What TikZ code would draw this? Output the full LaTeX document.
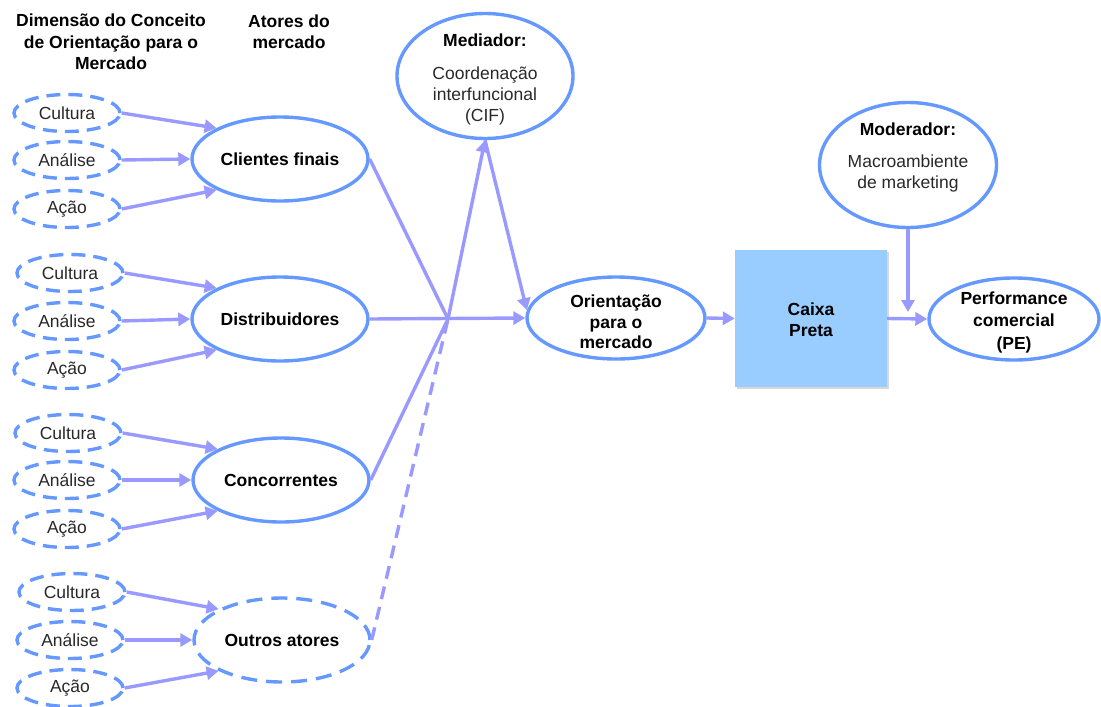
\documentclass[tikz,border=0pt]{standalone}
\usepackage{fontspec}
\setmainfont{Liberation Sans}
\usetikzlibrary{arrows.meta,shapes.geometric,shadows}

\definecolor{ovalblue}{RGB}{102,153,255}
\definecolor{arrowblue}{RGB}{153,153,255}
\definecolor{boxblue}{RGB}{153,204,255}
\definecolor{txtgray}{RGB}{40,40,40}

\tikzset{
  basefont/.style={font=\fontsize{17.5}{21}\selectfont},
  dimoval/.style={ellipse, draw=ovalblue, line width=3.4pt, dash pattern=on 14pt off 8pt,
    minimum width=106pt, minimum height=37pt, inner sep=0pt, basefont, text=txtgray},
  actoroval/.style={ellipse, draw=ovalblue, line width=3.4pt,
    minimum width=176pt, minimum height=84pt, inner sep=0pt,
    font=\fontsize{17.5}{21}\selectfont\bfseries},
  otheroval/.style={actoroval, dash pattern=on 16pt off 9pt},
  bigoval/.style={ellipse, draw=ovalblue, line width=3.4pt, inner sep=0pt},
  ovaltext/.style={align=center, basefont, text=txtgray},
  boldtext/.style={align=center, font=\fontsize{17.5}{21.3}\selectfont\bfseries},
  link/.style={draw=arrowblue, line width=3.4pt},
  arr/.style={link, -{Triangle[length=12pt,width=13pt]}},
  dashlink/.style={link, dash pattern=on 13pt off 8pt},
}

\begin{document}
\begin{tikzpicture}[x=1pt,y=-1pt]
\useasboundingbox (0,0) rectangle (1101,707);

% column headings
\node[boldtext] (h1) at (111,42) {Dimensão do Conceito\\de Orientação para o\\Mercado};
\node[boldtext] (h2) at (289,32) {Atores do\\mercado};

% market actors
\node[actoroval] (cf) at (280,159) {Clientes finais};
\node[actoroval] (di) at (280,319) {Distribuidores};
\node[actoroval] (co) at (281,480) {Concorrentes};
\node[otheroval] (ou) at (282,640) {Outros atores};

% dimensions feeding each actor
\foreach \grp/\act/\ya/\yb/\yc/\xa/\xb/\xc in {
    a/cf/113/160/209/67/67/67,
    b/di/273/321/370/70/67/67,
    c/co/433/480/529/68/67/67,
    d/ou/592/640/688/72/70/70}{
  \node[dimoval] (\grp1) at (\xa,\ya) {Cultura};
  \node[dimoval] (\grp2) at (\xb,\yb) {Análise};
  \node[dimoval] (\grp3) at (\xc,\yc) {Ação};
  \draw[arr] (\grp1.east) -- (\act.154);
  \draw[arr] (\grp2.east) -- (\act.west);
  \draw[arr] (\grp3.east) -- (\act.206);
}

% mediator
\node[bigoval, minimum width=176pt, minimum height=125pt] (med) at (485,76) {};
\node[ovaltext] (medt) at (485,79)
  {\textbf{\color{black}Mediador:}\\[12pt]Coordenação\\interfuncional\\(CIF)};

% market orientation
\node[bigoval, minimum width=178pt, minimum height=82pt] (or) at (616,318) {};
\node[boldtext, font=\fontsize{17.5}{20.5}\selectfont\bfseries] (ort) at (616,322)
  {Orientação\\para o\\mercado};

% black box
\node[rectangle, fill=boxblue, minimum width=152pt, minimum height=137pt,
      drop shadow={shadow xshift=1.5pt, shadow yshift=-1.5pt, fill=black!30}] (box) at (811,318.5) {};
\node[boldtext] (boxt) at (811,320) {Caixa\\Preta};

% moderator
\node[bigoval, minimum width=177pt, minimum height=125pt] (mod) at (908,165) {};
\node[ovaltext] (modt) at (908,157)
  {\textbf{\color{black}Moderador:}\\[11pt]Macroambiente\\de marketing};

% performance
\node[bigoval, minimum width=170pt, minimum height=82pt] (pe) at (1014,319) {};
\node[boldtext, font=\fontsize{17.5}{22.5}\selectfont\bfseries] (pet) at (1014,322)
  {Performance\\comercial\\(PE)};

% convergence of actors
\coordinate (J) at (448,319);
\coordinate (M) at (908,312);
\draw[link] (cf.east) -- (J);
\draw[link] (co.east) -- (J);
\draw[dashlink] (ou.east) -- (J);
\draw[arr] (di.east) -- (or.west);
\draw[arr] (J) -- (med.south);
\draw[arr] (med.south) -- (or.175);

% chain to performance
\draw[arr] (or.east) -- (box.west);
\draw[arr] (box.east) -- (pe.west);
\draw[arr] (mod.south) -- (M);
\end{tikzpicture}
\end{document}
